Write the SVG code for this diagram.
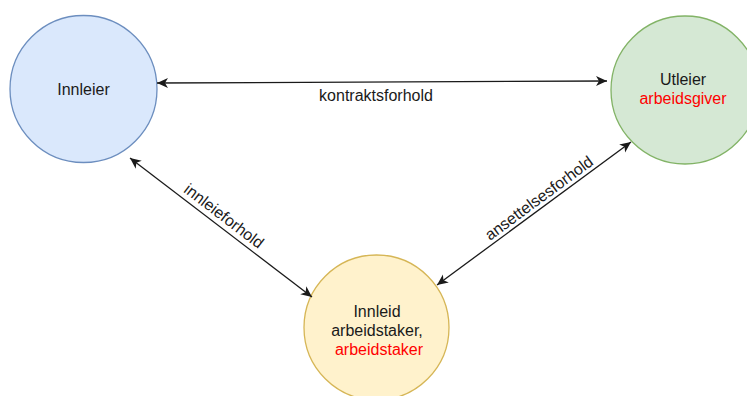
<svg xmlns="http://www.w3.org/2000/svg" width="747" height="396" viewBox="0 0 747 396">
<style>
.t{font-family:"Liberation Sans",Arial,sans-serif;font-size:16px;fill:#1a1a1a;text-anchor:middle}
.r{fill:#ff0000}
.e{stroke:#1a1a1a;stroke-width:1.3;fill:none;marker-start:url(#a);marker-end:url(#a)}
.l{font-family:"Liberation Sans",Arial,sans-serif;font-size:16px;fill:#1a1a1a;text-anchor:middle;dominant-baseline:central}
</style>
<defs>
<marker id="a" markerUnits="userSpaceOnUse" markerWidth="14" markerHeight="12" refX="11" refY="5" orient="auto-start-reverse" viewBox="0 0 14 10">
<path d="M0,0 L11,5 L0,10 L3,5 Z" fill="#1a1a1a"/>
</marker>
</defs>
<rect width="747" height="396" fill="#ffffff"/>
<g id="innleier">
<circle cx="83.5" cy="89" r="73.5" fill="#dae8fc" stroke="#6c8ebf" stroke-width="1.3"/>
<text class="t" x="83.5" y="95">Innleier</text>
</g>
<g id="utleier">
<circle cx="685" cy="90" r="74" fill="#d5e8d4" stroke="#82b366" stroke-width="1.3"/>
<text class="t" x="683" y="85">Utleier</text>
<text class="t r" x="683" y="104">arbeidsgiver</text>
</g>
<g id="innleid">
<circle cx="376.5" cy="327.5" r="72.5" fill="#fff2cc" stroke="#d6b656" stroke-width="1.3"/>
<text class="t" x="377" y="317">Innleid</text>
<text class="t" x="377" y="336">arbeidstaker,</text>
<text class="t r" x="379" y="355">arbeidstaker</text>
</g>
<g id="connectors">
<path class="e" d="M157,83 L607,81"/>
<text class="l" x="376" y="95">kontraktsforhold</text>
<path class="e" d="M130,158 L312,297"/>
<text class="l" transform="translate(224,216) rotate(37.4)">innleieforhold</text>
<path class="e" d="M437,285 L631,142"/>
<text class="l" transform="translate(539,198) rotate(-36.4)">ansettelsesforhold</text>
</g>
</svg>
